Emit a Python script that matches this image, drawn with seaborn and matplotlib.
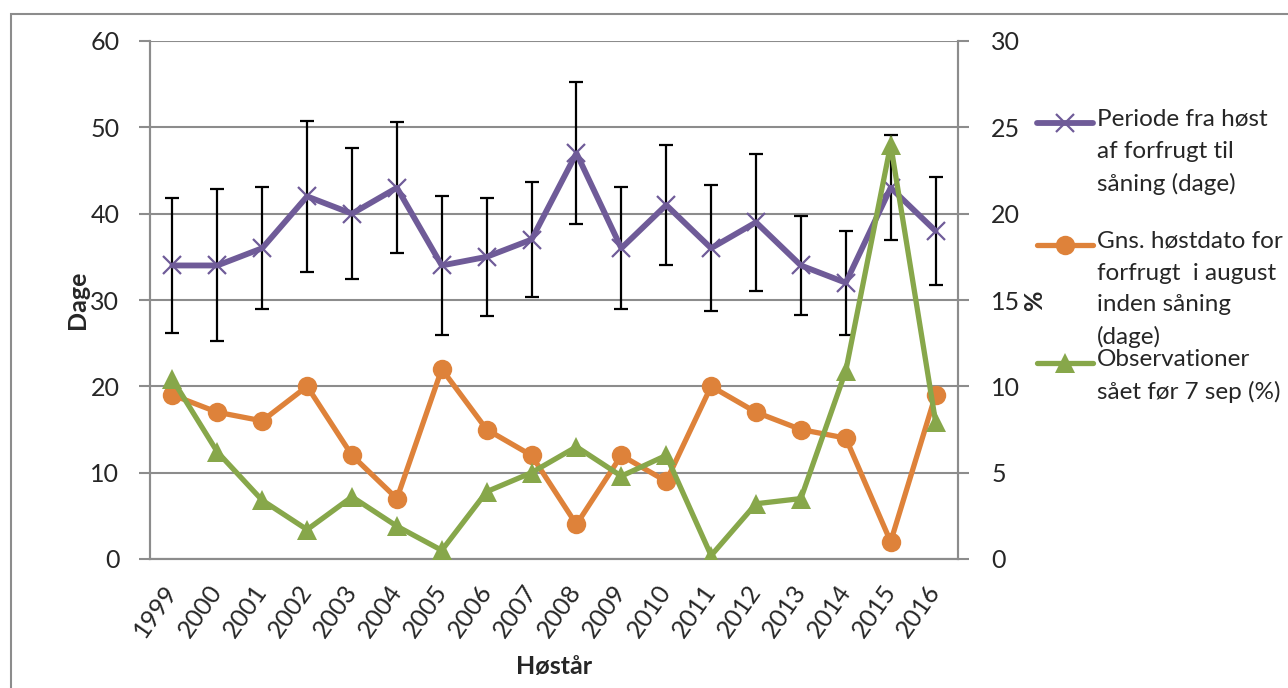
import matplotlib
matplotlib.use("Agg")
import matplotlib.pyplot as plt
from matplotlib.lines import Line2D
from matplotlib.patches import Rectangle
import seaborn as sns
import pandas as pd

# data
years = list(range(1999, 2017))
periode = [34, 34, 36, 42, 40, 43, 34, 35, 37, 47, 36, 41, 36, 39, 34, 32, 43, 38]
periode_err = [7.8, 8.8, 7.1, 8.7, 7.6, 7.6, 8.0, 6.8, 6.7, 8.2, 7.1, 6.9, 7.3, 7.9, 5.7, 6.0, 6.1, 6.3]
hoestdato = [19, 17, 16, 20, 12, 7, 22, 15, 12, 4, 12, 9, 20, 17, 15, 14, 2, 19]
observationer = [10.4, 6.2, 3.4, 1.7, 3.6, 1.9, 0.5, 3.9, 5.0, 6.5, 4.8, 6.0, 0.2, 3.2, 3.5, 10.9, 24.0, 7.95]
legend_labels = ["Periode fra høst\naf forfrugt til\nsåning (dage)",
                 "Gns. høstdato for\nforfrugt  i august\ninden såning\n(dage)",
                 "Observationer\nsået før 7 sep (%)"]

PURPLE = "#6F5B98"
ORANGE = "#DE823A"
GREEN = "#87A74A"
GRAY = "#8C8C8C"

df = pd.DataFrame({"aar": years, "periode": periode, "err": periode_err,
                   "hoestdato": hoestdato, "obs": observationer})

sns.set_style("white")
plt.rcParams["font.family"] = ["Lato", "DejaVu Sans"]
FS = 18

fig = plt.figure(figsize=(12.88, 6.88), dpi=100)
ax = fig.add_axes([150 / 1288, 1 - 559 / 688, 808 / 1288, 518 / 688])

# outer chart frame
fig.add_artist(Rectangle((11 / 1288, -0.1), 1.2, 1 - 14 / 688 + 0.1, transform=fig.transFigure,
                         fill=False, edgecolor=GRAY, lw=1.5))

ax.errorbar(df["aar"], df["periode"], yerr=df["err"], fmt="none", ecolor="black",
            elinewidth=1.6, capsize=5, capthick=1.6, zorder=2)
sns.lineplot(data=df, x="aar", y="periode", ax=ax, color=PURPLE, lw=4.2, marker="x",
             markersize=13, markeredgewidth=1.6, markeredgecolor=PURPLE, legend=False, zorder=3)
sns.lineplot(data=df, x="aar", y="hoestdato", ax=ax, color=ORANGE, lw=3.8, marker="o",
             markersize=14, markeredgewidth=0, legend=False, zorder=3)

ax2 = ax.twinx()
sns.lineplot(data=df, x="aar", y="obs", ax=ax2, color=GREEN, lw=3.8, marker="^",
             markersize=15, markeredgewidth=0, legend=False, zorder=3)

ax.set_xlim(1998.5, 2016.5)
ax.set_ylim(0, 60)
ax2.set_ylim(0, 30)
ax.set_yticks(range(0, 61, 10))
ax2.set_yticks(range(0, 31, 5))
ax.yaxis.grid(True, color=GRAY, lw=1.5)
ax.set_axisbelow(True)

ax.set_xticks(years)
ax.set_xticklabels([str(y) for y in years], rotation=55, ha="right", va="center",
                   rotation_mode="anchor", fontsize=FS)
ax.set_xticks([y - 0.5 for y in years] + [2016.5], minor=True)
ax.tick_params(axis="x", which="major", length=0, pad=20)
ax.tick_params(axis="x", which="minor", length=7, width=1.5, color=GRAY, direction="out")
ax.tick_params(axis="y", length=8, width=1.5, color=GRAY, direction="out", labelsize=FS, pad=14)
ax2.tick_params(axis="y", length=8, width=1.5, color=GRAY, direction="out", labelsize=FS, pad=16)

for a in (ax, ax2):
    for s in a.spines.values():
        s.set_color(GRAY)
        s.set_linewidth(1.5)
    a.spines["top"].set_visible(False)

ax.set_xlabel("Høstår", fontsize=FS, fontweight="bold", labelpad=10)
ax.set_ylabel("Dage", fontsize=FS, fontweight="bold", labelpad=1)
ax2.set_ylabel("%", fontsize=FS, fontweight="bold", labelpad=2)

# legend drawn Excel-style: handle aligned to first text line
legend_styles = [dict(color=PURPLE, marker="x", markersize=13, markeredgewidth=1.6, lw=4.2),
                 dict(color=ORANGE, marker="o", markersize=14, markeredgewidth=0, lw=3.8),
                 dict(color=GREEN, marker="^", markersize=15, markeredgewidth=0, lw=3.8)]
legend_y = [123, 245, 363]
for lab, st, ypx in zip(legend_labels, legend_styles, legend_y):
    yf = 1 - ypx / 688
    fig.add_artist(Line2D([1037 / 1288, 1093 / 1288], [yf, yf], transform=fig.transFigure,
                          solid_capstyle="round", color=st["color"], lw=st["lw"]))
    fig.add_artist(Line2D([1065 / 1288], [yf], transform=fig.transFigure, ls="none",
                          color=st["color"], marker=st["marker"], markersize=st["markersize"],
                          markeredgewidth=st["markeredgewidth"]))
    fig.text(1097 / 1288, yf + 14 / 688, lab, fontsize=17.5, va="top", ha="left", linespacing=1.62)

fig.savefig("out.png", dpi=100)
